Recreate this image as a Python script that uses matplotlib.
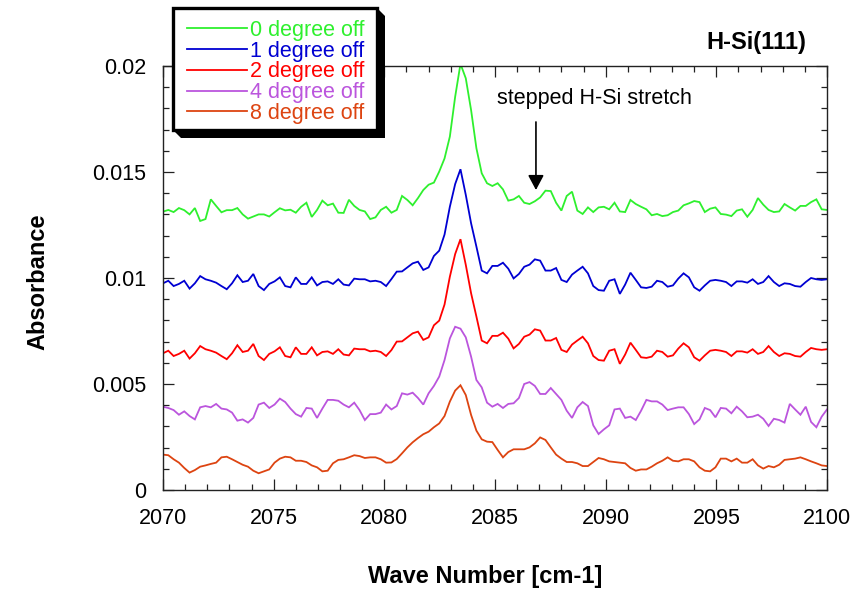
import numpy as np
import matplotlib
matplotlib.use("Agg")
import matplotlib.pyplot as plt
from matplotlib.ticker import MultipleLocator, FuncFormatter
from matplotlib.patches import Polygon, Rectangle
from matplotlib.lines import Line2D

plt.rcParams['font.family'] = ['Liberation Sans', 'DejaVu Sans']

# ---------------- data ----------------
wn_start, wn_stop, n_points = 2070.0, 2100.0, 126
wavenumber = np.linspace(wn_start, wn_stop, n_points)

deg0 = [0.01313, 0.01321, 0.01311, 0.0133, 0.0132, 0.0130, 0.0133, 0.01269, 0.01278, 0.01371, 0.0134,
        0.0131, 0.0132, 0.0132, 0.0133, 0.0130, 0.0128, 0.0129, 0.0130, 0.0130, 0.0129, 0.0131,
        0.01329, 0.01319, 0.01322, 0.01308, 0.01336, 0.01355, 0.01288, 0.01321, 0.01365, 0.01343, 0.01351,
        0.01308, 0.01307, 0.01369, 0.0134, 0.01321, 0.01314, 0.01278, 0.01286, 0.01321, 0.01336,
        0.01308, 0.01321, 0.01387, 0.01368, 0.01343, 0.01377, 0.01415, 0.0144, 0.0145, 0.01502,
        0.01564, 0.01667, 0.01855, 0.0201, 0.01942, 0.01792, 0.01612, 0.01494, 0.01447, 0.01434,
        0.01447, 0.01418, 0.01365, 0.01371, 0.01387, 0.01355, 0.01349, 0.01362, 0.0138, 0.01412, 0.0141,
        0.01355, 0.01318, 0.01387, 0.01407, 0.01318, 0.01302, 0.01333, 0.01311, 0.01333, 0.01336,
        0.01324, 0.01355, 0.01314, 0.01311, 0.01368, 0.01349, 0.01336, 0.01324, 0.01296, 0.01302,
        0.01292, 0.01296, 0.01311, 0.01318, 0.01343, 0.01352, 0.01363, 0.01358, 0.01311, 0.01327,
        0.01333, 0.01302, 0.01299, 0.01292, 0.01318, 0.01324, 0.01289, 0.01321, 0.01377, 0.01346, 0.01321,
        0.01311, 0.01314, 0.01349, 0.01333, 0.01318, 0.0134, 0.0134, 0.01358, 0.01371, 0.01324, 0.01321]

deg1 = [0.00975, 0.00987, 0.00962, 0.00972, 0.00987, 0.0095, 0.00975, 0.01009, 0.00994, 0.00987, 0.00978,
        0.00962, 0.00947, 0.00975, 0.01013, 0.00981, 0.00987, 0.01019, 0.00962, 0.00943, 0.00972, 0.00984,
        0.01003, 0.00962, 0.00956, 0.01003, 0.00972, 0.00972, 0.01003, 0.00965, 0.00981, 0.00984, 0.00972,
        0.00994, 0.00969, 0.00965, 0.00997, 0.00994, 0.00994, 0.00984, 0.00987, 0.00981, 0.00962,
        0.00995, 0.0103, 0.01031, 0.0105, 0.01069, 0.01077, 0.01038, 0.0105, 0.01104, 0.01129,
        0.01205, 0.01336, 0.01443, 0.01513, 0.01392, 0.01258, 0.01148, 0.01035, 0.01022, 0.01057,
        0.01057, 0.01072, 0.01044, 0.00998, 0.01019, 0.01053, 0.01063, 0.01088, 0.01082, 0.01035, 0.01035,
        0.01047, 0.00991, 0.00981, 0.01016, 0.01035, 0.01053, 0.01022, 0.00962, 0.00943, 0.0094,
        0.00987, 0.00994, 0.00925, 0.00969, 0.01025, 0.00991, 0.00956, 0.00953, 0.00959, 0.00987,
        0.00981, 0.00959, 0.00965, 0.00997, 0.01022, 0.01003, 0.00956, 0.0094, 0.00965, 0.00987,
        0.00991, 0.00987, 0.00981, 0.00962, 0.00984, 0.00984, 0.00978, 0.00994, 0.00972, 0.00981, 0.01009,
        0.00981, 0.00962, 0.00975, 0.00972, 0.00962, 0.00959, 0.00981, 0.0100, 0.00994, 0.00991, 0.00994]

deg2 = [0.00645, 0.00657, 0.00632, 0.00642, 0.00657, 0.0062, 0.00645, 0.00679, 0.00664, 0.00657, 0.00648,
        0.00632, 0.00617, 0.00645, 0.00683, 0.00651, 0.00657, 0.00689, 0.00632, 0.00613, 0.00642, 0.00654,
        0.00673, 0.00632, 0.00626, 0.00673, 0.00642, 0.00642, 0.00673, 0.00635, 0.00651, 0.00654, 0.00642,
        0.00664, 0.00639, 0.00635, 0.00667, 0.00664, 0.00664, 0.00654, 0.00657, 0.00651, 0.00632,
        0.0066, 0.0070, 0.00701, 0.0072, 0.00739, 0.00747, 0.00708, 0.0072, 0.00777, 0.00799,
        0.00875, 0.01006, 0.01113, 0.01183, 0.01062, 0.00928, 0.00818, 0.00705, 0.00692, 0.00727,
        0.00727, 0.00742, 0.00714, 0.00668, 0.00689, 0.00723, 0.00733, 0.00758, 0.00752, 0.00705, 0.00705,
        0.00717, 0.00661, 0.00651, 0.00686, 0.00705, 0.00723, 0.00692, 0.00632, 0.00613, 0.0061,
        0.00657, 0.00664, 0.00595, 0.00639, 0.00695, 0.00661, 0.00626, 0.00623, 0.00629, 0.00657,
        0.00651, 0.00629, 0.00635, 0.00667, 0.00692, 0.00673, 0.00626, 0.0061, 0.00635, 0.00657,
        0.00661, 0.00657, 0.00651, 0.00632, 0.00654, 0.00654, 0.00648, 0.00664, 0.00642, 0.00651, 0.00679,
        0.00651, 0.00632, 0.00645, 0.00642, 0.00632, 0.00629, 0.00651, 0.0067, 0.00664, 0.00661, 0.00664]

deg4 = [0.00393, 0.00387, 0.00377, 0.00355, 0.00371, 0.00349, 0.00333, 0.0039, 0.00396, 0.0039, 0.00406,
        0.00384, 0.0038, 0.00365, 0.00327, 0.00333, 0.00318, 0.0034, 0.00403, 0.00412, 0.00387, 0.00403,
        0.00431, 0.00415, 0.00384, 0.00358, 0.00346, 0.00387, 0.00384, 0.0034, 0.00384, 0.00425, 0.00425,
        0.00421, 0.00403, 0.0039, 0.00412, 0.00377, 0.0033, 0.00358, 0.00358, 0.00365, 0.00403,
        0.0038, 0.00396, 0.00456, 0.0045, 0.00459, 0.00434, 0.00403, 0.00456, 0.00491, 0.00535,
        0.00613, 0.00715, 0.0077, 0.00761, 0.0072, 0.00629, 0.00519, 0.00484, 0.00412, 0.00393,
        0.00406, 0.00387, 0.00406, 0.00409, 0.00434, 0.0050, 0.00509, 0.00491, 0.00453, 0.00453, 0.00481,
        0.00453, 0.00425, 0.00374, 0.0034, 0.0039, 0.00415, 0.00396, 0.00305, 0.00264, 0.00286,
        0.00305, 0.0038, 0.00384, 0.0034, 0.00346, 0.0033, 0.00374, 0.00425, 0.00418, 0.00418,
        0.00403, 0.00377, 0.00384, 0.0039, 0.0039, 0.00358, 0.00311, 0.00333, 0.00387, 0.00377,
        0.00343, 0.00387, 0.00384, 0.00362, 0.00393, 0.00371, 0.00343, 0.00346, 0.00355, 0.00336, 0.00302,
        0.00336, 0.0033, 0.00318, 0.00406, 0.0038, 0.00355, 0.00393, 0.00321, 0.00296, 0.00346, 0.0038]

deg8 = [0.00167, 0.00164, 0.00145, 0.00129, 0.00104, 0.00082, 0.00094, 0.0011, 0.00116, 0.00123, 0.00129,
        0.00154, 0.00157, 0.00145, 0.00132, 0.00119, 0.0011, 0.00091, 0.00079, 0.00088, 0.00097, 0.00129,
        0.00148, 0.00157, 0.00154, 0.00138, 0.00138, 0.00132, 0.00116, 0.00107, 0.00088, 0.00091, 0.00126,
        0.00142, 0.00145, 0.00154, 0.00164, 0.0016, 0.00151, 0.00154, 0.00154, 0.00145, 0.00129,
        0.0013, 0.00146, 0.00173, 0.00201, 0.00225, 0.00245, 0.00263, 0.00275, 0.00296, 0.00314,
        0.00349, 0.00417, 0.00469, 0.00494, 0.00448, 0.00354, 0.0028, 0.00239, 0.00228, 0.00226,
        0.00189, 0.00154, 0.00179, 0.00192, 0.00192, 0.00192, 0.00201, 0.0022, 0.00248, 0.00236, 0.00201,
        0.00167, 0.00148, 0.00132, 0.00132, 0.00126, 0.00113, 0.00113, 0.00132, 0.00151, 0.00145,
        0.00135, 0.00132, 0.00129, 0.00126, 0.00104, 0.00091, 0.00097, 0.00097, 0.0011, 0.00126,
        0.00138, 0.00154, 0.00138, 0.00135, 0.00145, 0.00145, 0.00135, 0.00107, 0.00091, 0.00088,
        0.00107, 0.00148, 0.00148, 0.00135, 0.00148, 0.00129, 0.00129, 0.00145, 0.00116, 0.00101, 0.00113,
        0.00107, 0.00119, 0.00142, 0.00145, 0.00148, 0.00154, 0.00145, 0.00135, 0.00126, 0.00116, 0.00113]

series_labels = ["0 degree off", "1 degree off", "2 degree off", "4 degree off", "8 degree off"]
series_values = [deg0, deg1, deg2, deg4, deg8]
series_colors = ["#2ef02e", "#0000d2", "#ff0000", "#bb55dd", "#dd4411"]

x_ticks = [2070, 2075, 2080, 2085, 2090, 2095, 2100]
y_ticks = [0, 0.005, 0.01, 0.015, 0.02]
y_tick_labels = ["0", "0.005", "0.01", "0.015", "0.02"]

annotation_text = "stepped H-Si stretch"
annotation_xy = (2086.85, 0.01415)
annotation_text_xy = (2086.85, 0.01736)
title_text = "H-Si(111)"

# ---------------- figure ----------------
W, H = 851, 590
fig = plt.figure(figsize=(W / 100, H / 100), dpi=100)


def fx(px):
    return px / W


def fy(py):
    return 1 - py / H


ax = fig.add_axes([fx(163), fy(490), fx(827) - fx(163), fy(66) - fy(490)])

for vals, col in zip(series_values, series_colors):
    ax.plot(wavenumber, vals, color=col, lw=1.3, solid_joinstyle='miter')

ax.set_xlim(2070, 2100)
ax.set_ylim(0, 0.02)
ax.set_xticks(x_ticks)
ax.set_yticks(y_ticks)
ax.set_yticklabels(y_tick_labels)
ax.xaxis.set_minor_locator(MultipleLocator(1))
ax.yaxis.set_minor_locator(MultipleLocator(0.001))
ax.tick_params(which='both', direction='in', top=True, right=True, width=0.9, color='#222222')
ax.tick_params(which='major', length=8)
ax.tick_params(which='minor', length=4.5)
ax.tick_params(axis='x', which='major', labelsize=15.5, pad=13)
ax.tick_params(axis='y', which='major', labelsize=15.5, pad=12)
for sp in ax.spines.values():
    sp.set_linewidth(1.0)
    sp.set_color('#222222')

# annotation arrow + text
ax.annotate("", xy=annotation_xy, xytext=annotation_text_xy,
            arrowprops=dict(arrowstyle="-|>,head_length=0.45,head_width=0.24",
                            mutation_scale=20, lw=1.2, color='black',
                            shrinkA=0, shrinkB=0))
ax.text(2085.09, 0.01849, annotation_text, fontsize=15.5, ha='left', va='center', color='black')

# title (outside, upper right)
fig.text(fx(806), fy(43), title_text, fontsize=17, fontweight='bold', ha='right', va='center')

# axis labels
fig.text(fx(38), fy(282), "Absorbance", fontsize=17, fontweight='bold', rotation=90,
         ha='center', va='center')
fig.text(fx(485), fy(577), "Wave Number [cm-1]", fontsize=17, fontweight='bold',
         ha='center', va='center')

# legend box with 3D shadow
shadow = Polygon([(fx(173), fy(130)), (fx(181), fy(138)), (fx(385), fy(138)),
                  (fx(385), fy(16)), (fx(377), fy(8)), (fx(173), fy(8))],
                 closed=True, transform=fig.transFigure, facecolor='black',
                 edgecolor='black', lw=0, zorder=10)
box = Rectangle((fx(173), fy(130)), fx(377) - fx(173), fy(8) - fy(130),
                transform=fig.transFigure, facecolor='white', edgecolor='black',
                lw=2.4, zorder=11)
fig.add_artist(shadow)
fig.add_artist(box)

row_centers = [28.3, 49.0, 69.8, 90.5, 111.3]
for lab, col, rc in zip(series_labels, series_colors, row_centers):
    fig.add_artist(Line2D([fx(187), fx(247)], [fy(rc), fy(rc)], color=col, lw=1.3,
                          transform=fig.transFigure, zorder=12))
    fig.text(fx(250), fy(rc + 7.6), lab, color=col, fontsize=15.5, ha='left',
             va='baseline', zorder=12)

fig.savefig("out.png", dpi=100)
